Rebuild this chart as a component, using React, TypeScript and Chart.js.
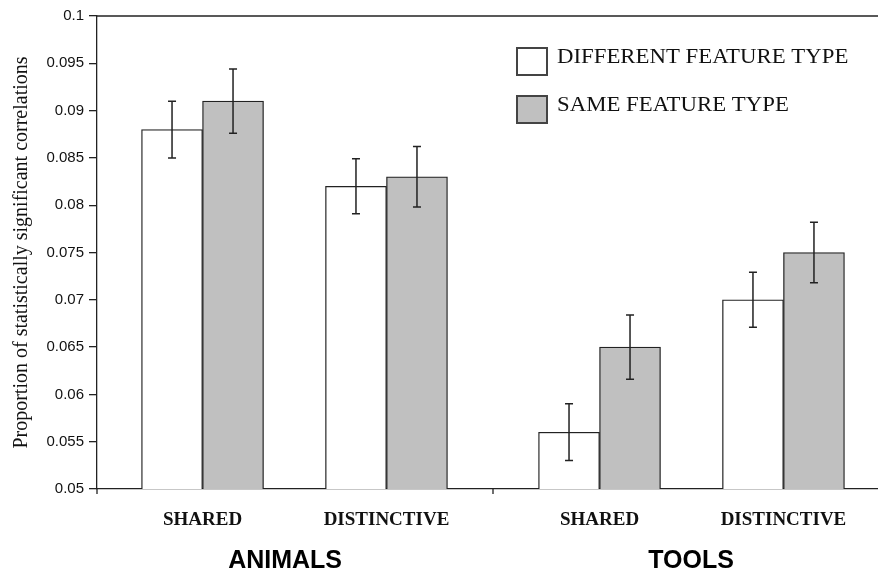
import React, { useEffect, useRef } from 'react';
import { Chart, registerables } from 'chart.js';

Chart.register(...registerables);

// Category layout along a linear x axis: one unit = one category slot, two slots per group
const categories = ['SHARED', 'DISTINCTIVE', 'SHARED', 'DISTINCTIVE'];
const categoryPositions = [0.533, 1.462, 2.538, 3.467];
const groups = ['ANIMALS', 'TOOLS'];
const groupCenters = [0.95, 3.0];
const groupBounds = [0, 2, 4];

const seriesLabels = ['DIFFERENT FEATURE TYPE', 'SAME FEATURE TYPE'];
const differentValues = [0.088, 0.082, 0.056, 0.07];
const differentErrors = [0.003, 0.0029, 0.003, 0.0029];
const sameValues = [0.091, 0.083, 0.065, 0.075];
const sameErrors = [0.0034, 0.0032, 0.0034, 0.0032];

const yMin = 0.05;
const yMax = 0.1;
const yStep = 0.005;
const yTitle = 'Proportion of statistically significant correlations';

const seriesFills = ['#ffffff', '#c0c0c0'];
const errorSets = [differentErrors, sameErrors];

const errorBarPlugin = {
  id: 'errorBars',
  afterDatasetsDraw(chart: any) {
    const { ctx } = chart;
    const y = chart.scales.y;
    chart.data.datasets.forEach((ds: any, i: number) => {
      const meta = chart.getDatasetMeta(i);
      meta.data.forEach((bar: any, j: number) => {
        const v = ds.data[j].y;
        const e = errorSets[i][j];
        const top = y.getPixelForValue(v + e);
        const bot = y.getPixelForValue(v - e);
        ctx.save();
        ctx.strokeStyle = '#222';
        ctx.lineWidth = 1.5;
        ctx.beginPath();
        ctx.moveTo(bar.x, top);
        ctx.lineTo(bar.x, bot);
        ctx.moveTo(bar.x - 4, top);
        ctx.lineTo(bar.x + 4, top);
        ctx.moveTo(bar.x - 4, bot);
        ctx.lineTo(bar.x + 4, bot);
        ctx.stroke();
        ctx.restore();
      });
    });
  },
};

const framePlugin = {
  id: 'frame',
  afterDraw(chart: any) {
    const { ctx, chartArea } = chart;
    const x = chart.scales.x;
    ctx.save();
    // top border of the plot
    ctx.strokeStyle = '#222';
    ctx.lineWidth = 1.3;
    ctx.beginPath();
    ctx.moveTo(chartArea.left, chartArea.top);
    ctx.lineTo(chartArea.right, chartArea.top);
    ctx.stroke();
    // group separator ticks under the x axis
    ctx.beginPath();
    groupBounds.forEach((b) => {
      const px = x.getPixelForValue(b);
      ctx.moveTo(px, chartArea.bottom);
      ctx.lineTo(px, chartArea.bottom + 5);
    });
    ctx.stroke();
    // group names
    ctx.fillStyle = '#000';
    ctx.font = 'bold 25px "Liberation Sans", Arial, sans-serif';
    ctx.textAlign = 'center';
    ctx.textBaseline = 'alphabetic';
    groups.forEach((g, i) => {
      ctx.fillText(g, x.getPixelForValue(groupCenters[i]), 568);
    });
    // legend
    const boxX = 517;
    const boxYs = [48, 96];
    ctx.font = '20px "Liberation Serif", "Times New Roman", serif';
    ctx.textAlign = 'left';
    chart.data.datasets.forEach((ds: any, i: number) => {
      ctx.fillStyle = ds.backgroundColor;
      ctx.fillRect(boxX, boxYs[i], 30, 27);
      ctx.strokeStyle = '#444';
      ctx.lineWidth = 2;
      ctx.strokeRect(boxX, boxYs[i], 30, 27);
      ctx.save();
      ctx.translate(557, boxYs[i] + 15);
      ctx.scale(1.14, 1);
      ctx.fillStyle = '#111';
      ctx.fillText(ds.label, 0, 0);
      ctx.restore();
    });
    ctx.restore();
  },
};

export default function App() {
  const canvasRef = useRef<HTMLCanvasElement | null>(null);

  useEffect(() => {
    const canvas = canvasRef.current;
    if (!canvas) return;
    const valueSets = [differentValues, sameValues];
    const chart = new Chart(canvas, {
      type: 'bar',
      data: {
        datasets: seriesLabels.map((label, i) => ({
          label,
          data: categoryPositions.map((p, j) => ({ x: p, y: valueSets[i][j] })),
          backgroundColor: seriesFills[i],
          borderColor: '#222',
          borderWidth: 1.3,
          barThickness: 61,
        })),
      },
      options: {
        responsive: false,
        animation: false,
        layout: { padding: { top: 16, right: 11, left: 0, bottom: 0 } },
        plugins: {
          legend: { display: false },
          tooltip: { enabled: false },
        },
        scales: {
          x: {
            type: 'linear',
            offset: false,
            min: groupBounds[0],
            max: groupBounds[groupBounds.length - 1],
            grid: { display: false },
            border: { display: true, color: '#222', width: 1.3 },
            afterBuildTicks: (scale: any) => {
              scale.ticks = categoryPositions.map((v) => ({ value: v }));
            },
            afterFit: (scale: any) => {
              scale.height = 87;
            },
            ticks: {
              autoSkip: false,
              maxRotation: 0,
              padding: 12,
              color: '#111',
              font: { family: '"Liberation Serif", "Times New Roman", serif', size: 19, weight: 'bold' },
              callback: (_v: any, index: number) => categories[index],
            },
          },
          y: {
            min: yMin,
            max: yMax,
            grid: { drawOnChartArea: false, tickLength: 8, color: '#222', lineWidth: 1.3 },
            border: { display: true, color: '#222', width: 1.3 },
            afterFit: (scale: any) => {
              scale.width = 97;
            },
            ticks: {
              stepSize: yStep,
              padding: 5,
              color: '#111',
              font: { family: '"Liberation Sans", Arial, sans-serif', size: 15 },
              callback: (v: any) => String(Number(Number(v).toFixed(3))),
            },
            title: {
              display: true,
              text: yTitle,
              color: '#111',
              padding: { top: 10, bottom: 0 },
              font: { family: '"Liberation Serif", "Times New Roman", serif', size: 20, weight: 'normal' },
            },
          },
        },
      },
      plugins: [errorBarPlugin, framePlugin],
    } as any);
    return () => chart.destroy();
  }, []);

  return (
    <div style={{ position: 'fixed', left: 0, top: 0, width: 878, height: 576, overflow: 'hidden', background: '#fff' }}>
      <canvas ref={canvasRef} width={900} height={576} style={{ display: 'block' }} />
    </div>
  );
}
